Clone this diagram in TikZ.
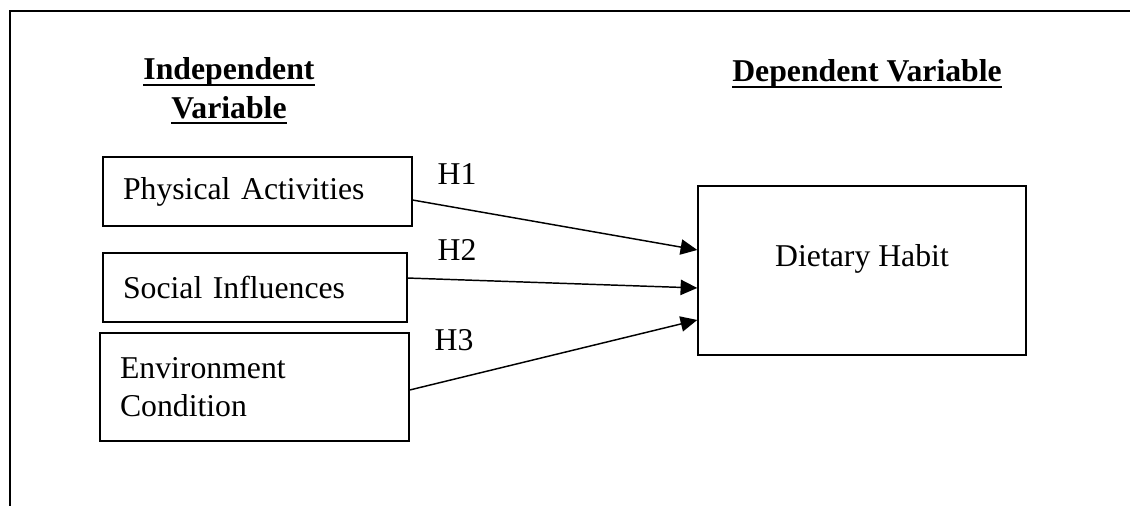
\documentclass[tikz,border=0pt]{standalone}
\usepackage{fontspec}
\setmainfont{Liberation Serif}
\usepackage{tikz}
\usetikzlibrary{positioning,arrows.meta}
\newcommand{\hdul}[1]{\setbox0\hbox{#1}\rlap{\rule[-4.8pt]{\wd0}{2pt}}\box0}

\begin{document}
\begin{tikzpicture}[x=0.75pt, y=-0.75pt,
    every node/.style={font=\fontsize{23.8pt}{28.5pt}\selectfont},
    head/.style={font=\fontsize{23.8pt}{28.5pt}\selectfont\bfseries,
                 inner sep=0pt, anchor=base},
    factor/.style={draw, line width=1pt, align=left,
                   inner xsep=15pt, inner ysep=0pt},
    outcome/.style={draw, line width=1.1pt, minimum width=246pt,
                    minimum height=126.75pt, align=center, text depth=22pt},
    hyp/.style={inner sep=0pt, anchor=base},
    arr/.style={-{Triangle[length=12.5pt, width=11.5pt]}, line width=1.1pt}]
  \useasboundingbox (0,0) rectangle (1130,506);
  % frame
  \draw[line width=1.1pt] (1130,11) -- (10,11) -- (10,506);
  % headings
  \node[head] (ind1) at (229,80) {\hdul{Independent}};
  \node[head] (ind2) at (229,118) {\hdul{Variable}};
  \node[head] (dep) at (867,82) {\hdul{Dependent Variable}};
  % variables
  \node[factor, text width=201.75pt, minimum height=51.75pt] (pa) at (257.5,191.5)
       {Physical Activities};
  \node[factor, text width=198pt, minimum height=51.75pt] (si) at (255,287.5)
       {Social Influences};
  \node[factor, text width=201.75pt, minimum height=81pt] (ec) at (254.5,387)
       {Environment\\Condition};
  \node[outcome] (dh) at (862,270.5) {Dietary Habit};
  % hypotheses
  \node[hyp] (h1) at (457,185) {H1};
  \node[hyp] (h2) at (457,260) {H2};
  \node[hyp] (h3) at (454,350) {H3};
  \draw[arr] ([yshift=-6.4pt]pa.east) -- ([yshift=15.4pt]dh.west);
  \draw[arr] ([yshift=7.1pt]si.east) -- ([yshift=-13.1pt]dh.west);
  \draw[arr] ([yshift=-2.25pt]ec.east) -- ([yshift=-37.1pt]dh.west);
\end{tikzpicture}
\end{document}
